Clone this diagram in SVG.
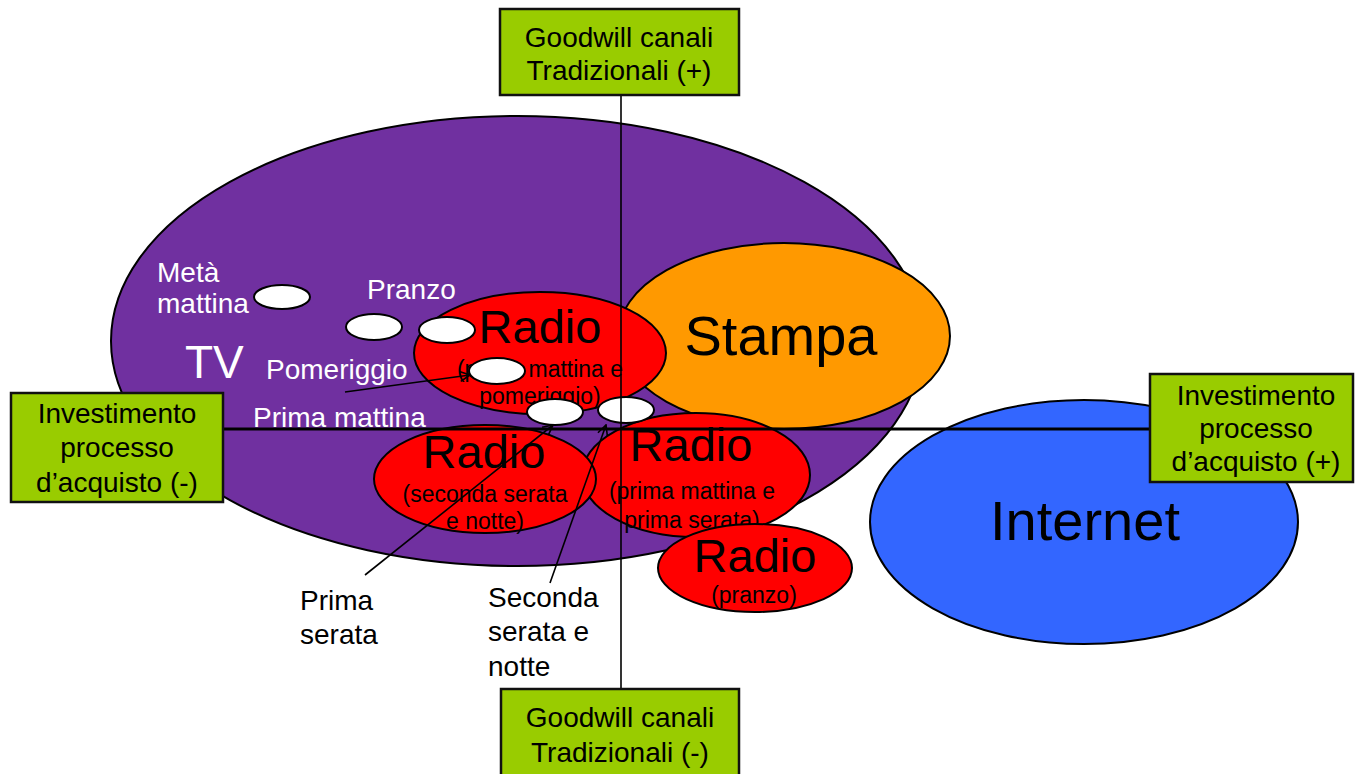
<svg xmlns="http://www.w3.org/2000/svg" width="1355" height="774" viewBox="0 0 1355 774">
<defs>
<style>
.sh{stroke:#000;stroke-width:2}
.tv{fill:#7030A0}
.st{fill:#FF9900}
.rd{fill:#FF0000}
.in{fill:#3366FF}
.wh{fill:#FFFFFF;stroke:#000;stroke-width:2}
.box{fill:#99CC00;stroke:#111;stroke-width:2.5}
text{font-family:"Liberation Sans",Arial,sans-serif}
.bt{font-size:28px;fill:#000;text-anchor:middle}
.wl{font-size:28px;fill:#fff}
.bl{font-size:28px;fill:#000}
.rt{font-size:47px;fill:#000;text-anchor:middle}
.rs{font-size:23px;fill:#000;text-anchor:middle}
.big{font-size:56px;fill:#000;text-anchor:middle}
.ax{stroke:#000;fill:none}
.ar{stroke:#000;stroke-width:1.6;fill:none}
</style>
<marker id="arr" viewBox="0 0 12 12" refX="11" refY="6" markerWidth="12" markerHeight="12" markerUnits="userSpaceOnUse" orient="auto">
<path d="M1,1 L11,6 L1,11" fill="none" stroke="#000" stroke-width="1.6"/>
</marker>
</defs>

<g id="tv">
<ellipse class="tv sh" cx="517" cy="341" rx="406" ry="225" stroke-width="2.5"/>
<text class="wl" x="185" y="378" font-size="46" style="font-size:46px">TV</text>
</g>

<g id="stampa">
<ellipse class="st sh" cx="784" cy="336" rx="166" ry="93"/>
<text class="big" x="781" y="355">Stampa</text>
</g>

<g id="radio-mattina-pomeriggio">
<ellipse class="rd sh" cx="540" cy="353" rx="126" ry="61"/>
<text class="rt" x="540" y="343">Radio</text>
<text class="rs" x="540" y="377">(prima mattina e</text>
<text class="rs" x="540" y="404">pomeriggio)</text>
</g>

<g id="radio-prima-mattina-serata">
<ellipse class="rd sh" cx="696" cy="475" rx="114" ry="62"/>
<text class="rt" x="691" y="461">Radio</text>
<text class="rs" x="692" y="499">(prima mattina e</text>
<text class="rs" x="692" y="528">prima serata)</text>
</g>

<g id="radio-seconda-serata">
<ellipse class="rd sh" cx="485" cy="479" rx="111" ry="54"/>
<text class="rt" x="484" y="468">Radio</text>
<text class="rs" x="485" y="502">(seconda serata</text>
<text class="rs" x="485" y="529">e notte)</text>
</g>

<g id="radio-pranzo">
<ellipse class="rd sh" cx="755" cy="568" rx="97" ry="44"/>
<text class="rt" x="755" y="572">Radio</text>
<text class="rs" x="754" y="603">(pranzo)</text>
</g>

<g id="internet">
<ellipse class="in sh" cx="1084" cy="522" rx="214" ry="122"/>
<text class="big" x="1085" y="540">Internet</text>
</g>

<g id="slot-meta-mattina">
<ellipse class="wh" cx="282" cy="297" rx="28" ry="12"/>
<text class="wl" x="157" y="282">Metà</text>
<text class="wl" x="157" y="313">mattina</text>
</g>
<g id="slot-pranzo">
<ellipse class="wh" cx="374" cy="327" rx="28" ry="13"/>
<ellipse class="wh" cx="447" cy="330" rx="28" ry="13"/>
<text class="wl" x="367" y="299">Pranzo</text>
</g>
<g id="slot-pomeriggio">
<ellipse class="wh" cx="497" cy="371" rx="28" ry="13"/>
<text class="wl" x="266" y="379">Pomeriggio</text>
</g>
<g id="slot-prima-mattina">
<ellipse class="wh" cx="555" cy="412" rx="28" ry="13"/>
<text class="wl" x="253" y="427">Prima mattina</text>
</g>
<g id="slot-sera">
<ellipse class="wh" cx="626" cy="410" rx="28" ry="13"/>
</g>

<g id="label-prima-serata">
<text class="bl" x="300" y="610">Prima</text>
<text class="bl" x="300" y="644">serata</text>
</g>
<g id="label-seconda-serata">
<text class="bl" x="488" y="607">Seconda</text>
<text class="bl" x="488" y="641">serata e</text>
<text class="bl" x="488" y="676">notte</text>
</g>

<g id="connectors">
<line class="ax" x1="621" y1="95" x2="621" y2="689" stroke-width="1.6"/>
<line class="ax" x1="223" y1="429" x2="1150" y2="429" stroke-width="3"/>
<line class="ar" x1="345" y1="392" x2="470" y2="375" marker-end="url(#arr)"/>
<line class="ar" x1="365" y1="575" x2="553" y2="425" marker-end="url(#arr)"/>
<line class="ar" x1="550" y1="583" x2="606" y2="425" marker-end="url(#arr)"/>
</g>

<g id="box-top">
<rect class="box" x="500" y="9" width="239" height="86"/>
<text class="bt" x="619" y="47">Goodwill canali</text>
<text class="bt" x="619" y="80">Tradizionali (+)</text>
</g>
<g id="box-bottom">
<rect class="box" x="501" y="689" width="238" height="100"/>
<text class="bt" x="620" y="727">Goodwill canali</text>
<text class="bt" x="620" y="762">Tradizionali (-)</text>
</g>
<g id="box-left">
<rect class="box" x="11" y="393" width="212" height="109"/>
<text class="bt" x="117" y="423">Investimento</text>
<text class="bt" x="117" y="457">processo</text>
<text class="bt" x="117" y="492">d’acquisto (-)</text>
</g>
<g id="box-right">
<rect class="box" x="1150" y="374" width="203" height="108"/>
<text class="bt" x="1256" y="405">Investimento</text>
<text class="bt" x="1256" y="438">processo</text>
<text class="bt" x="1256" y="471">d’acquisto (+)</text>
</g>
</svg>
